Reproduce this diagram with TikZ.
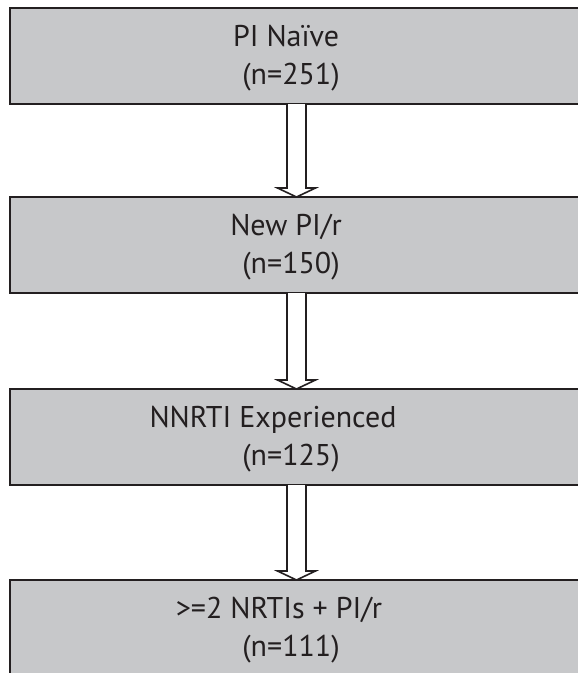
\documentclass[tikz,border=0pt]{standalone}
\usepackage{fontspec}
\setmainfont{PT Sans}
\usetikzlibrary{calc}
\definecolor{inkc}{HTML}{231F20}
\definecolor{boxfill}{HTML}{C7C8CA}
\tikzset{
  flowbox/.style={draw=inkc, fill=boxfill, line width=2pt, minimum width=573pt, minimum height=96pt, inner sep=0pt, outer sep=0pt},
  flowtext/.style={anchor=base, inner sep=0pt, text=inkc, font=\fontsize{30}{36}\selectfont},
  hollowarrow/.style={draw=inkc, fill=white, line width=1.6pt, line join=miter}
}
\newcommand{\hollowlink}[2]{%
  \draw[hollowarrow] ($(#1.south)+(-9.5,0)$) -- ($(#2.north)+(-9.5,-9)$) -- ($(#2.north)+(-19,-9)$) -- (#2.north) -- ($(#2.north)+(19,-9)$) -- ($(#2.north)+(9.5,-9)$) -- ($(#1.south)+(9.5,0)$);
}
\begin{document}
\begin{tikzpicture}[x=1pt,y=-1pt]
\useasboundingbox (0,0) rectangle (578,673);
\clip (0,0) rectangle (578,673);
\node[flowbox] (b1) at (296.5,56) {};
\node[flowbox] (b2) at (296.5,245) {};
\node[flowbox] (b3) at (296.5,437) {};
\node[flowbox] (b4) at (296.5,628) {};
\hollowlink{b1}{b2}
\hollowlink{b2}{b3}
\hollowlink{b3}{b4}
\node[flowtext] (t1a) at (286,46) {PI Naïve};
\node[flowtext] (t1b) at (291,84) {(n=251)};
\node[flowtext] (t2a) at (286,235) {New PI/r};
\node[flowtext] (t2b) at (291,273) {(n=150)};
\node[flowtext] (t3a) at (273,427) {NNRTI Experienced};
\node[flowtext] (t3b) at (291,465) {(n=125)};
\node[flowtext] (t4a) at (279,618) {>=2 NRTIs + PI/r};
\node[flowtext] (t4b) at (291,656) {(n=111)};
\end{tikzpicture}
\end{document}
